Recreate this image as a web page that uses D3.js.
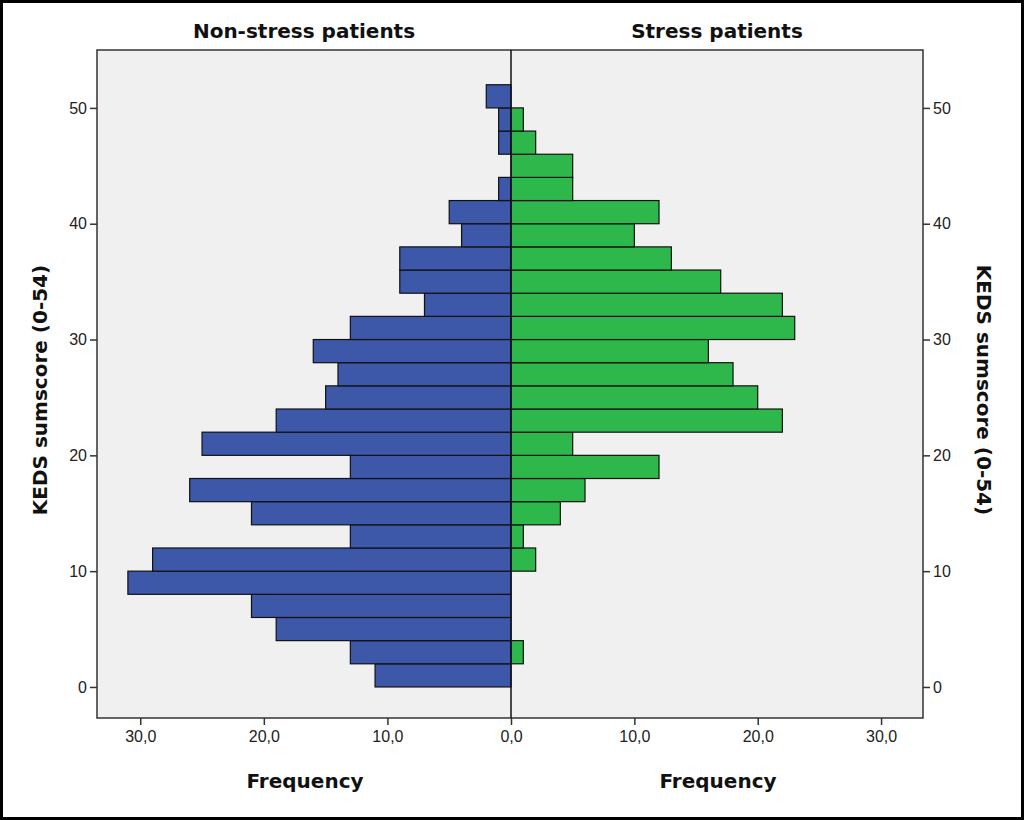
<!DOCTYPE html>
<html><head><meta charset="utf-8">
<script src="https://cdn.jsdelivr.net/npm/d3@7"></script>
<style>body{margin:0;background:#fff}svg{display:block}</style>
</head><body>
<script>
// Bin start values (KEDS sumscore bins of width 2)
const binStarts = [0,2,4,6,8,10,12,14,16,18,20,22,24,26,28,30,32,34,36,38,40,42,44,46,48,50];
const nonStress = [11,13,19,21,31,29,13,21,26,13,25,19,15,14,16,13,7,9,9,4,5,1,0,1,1,2];
const stress    = [0,1,0,0,0,2,1,4,6,12,5,22,20,18,16,23,22,17,13,10,12,5,5,2,1,0];
const yTicks = [0,10,20,30,40,50];
const xTicksLeft = [10,20,30];
const xTicksRight = [0,10,20,30];
const binWidth = 2;

const W = 1024, H = 820;
const svg = d3.select("body").append("svg").attr("width", W).attr("height", H);
svg.append("rect").attr("x",1.5).attr("y",1.5).attr("width",W-3).attr("height",H-3)
  .attr("fill","#fff").attr("stroke","#000").attr("stroke-width",3);

const plot = {l:97, r:923, t:50, b:718};
const cx = 511;
const y = d3.scaleLinear().domain([-2.68, 55.0]).range([plot.b, plot.t]);
const xL = d3.scaleLinear().domain([0, 33.5]).range([cx, plot.l]);
const xR = d3.scaleLinear().domain([0, 33.4]).range([cx, plot.r]);

svg.append("rect").attr("x",plot.l).attr("y",plot.t).attr("width",plot.r-plot.l).attr("height",plot.b-plot.t)
  .attr("fill","#f0f0f0").attr("stroke","#333").attr("stroke-width",1.5);

const data = binStarts.map((s,i)=>({s, a:nonStress[i], b:stress[i]}));
svg.append("g").selectAll("rect").data(data.filter(d=>d.a>0)).join("rect")
  .attr("x", d=>xL(d.a)).attr("width", d=>xL(0)-xL(d.a))
  .attr("y", d=>y(d.s+binWidth)).attr("height", d=>y(d.s)-y(d.s+binWidth))
  .attr("fill","#3d57a9").attr("stroke","#111").attr("stroke-width",1.2);
svg.append("g").selectAll("rect").data(data.filter(d=>d.b>0)).join("rect")
  .attr("x", d=>xR(0)).attr("width", d=>xR(d.b)-xR(0))
  .attr("y", d=>y(d.s+binWidth)).attr("height", d=>y(d.s)-y(d.s+binWidth))
  .attr("fill","#2eb84b").attr("stroke","#111").attr("stroke-width",1.2);

svg.append("line").attr("x1",cx).attr("x2",cx).attr("y1",plot.t).attr("y2",plot.b)
  .attr("stroke","#111").attr("stroke-width",1.5);

const fmt = d => d3.format(".1f")(d).replace(".", ",");
const tickFont = g => g.selectAll("text").attr("font-family","Liberation Sans, Arial, sans-serif").attr("font-size",16).attr("fill","#222");
const styleAxis = g => { g.select(".domain").remove(); g.selectAll(".tick line").attr("stroke","#333").attr("stroke-width",1.5); tickFont(g); };

svg.append("g").attr("transform",`translate(0,${plot.b})`)
  .call(d3.axisBottom(xL).tickValues(xTicksLeft).tickFormat(fmt).tickSize(7).tickPadding(6)).call(styleAxis);
svg.append("g").attr("transform",`translate(0,${plot.b})`)
  .call(d3.axisBottom(xR).tickValues(xTicksRight).tickFormat(fmt).tickSize(7).tickPadding(6)).call(styleAxis);
svg.append("g").attr("transform",`translate(${plot.l},0)`)
  .call(d3.axisLeft(y).tickValues(yTicks).tickSize(7).tickPadding(3)).call(styleAxis);
svg.append("g").attr("transform",`translate(${plot.r},0)`)
  .call(d3.axisRight(y).tickValues(yTicks).tickSize(7).tickPadding(3)).call(styleAxis);

const bold = sel => sel.attr("font-family","DejaVu Sans, sans-serif").attr("font-weight","bold").attr("font-size",20).attr("fill","#111").attr("text-anchor","middle");
svg.append("text").attr("x",(plot.l+cx)/2).attr("y",38).text("Non-stress patients").call(bold);
svg.append("text").attr("x",(cx+plot.r)/2).attr("y",38).text("Stress patients").call(bold);
svg.append("text").attr("x",(plot.l+cx)/2+1).attr("y",788).text("Frequency").call(bold);
svg.append("text").attr("x",(cx+plot.r)/2+1).attr("y",788).text("Frequency").call(bold);
svg.append("text").attr("transform",`translate(47,${(plot.t+plot.b)/2+6}) rotate(-90)`).text("KEDS sumscore (0-54)").call(bold);
svg.append("text").attr("transform",`translate(977,${(plot.t+plot.b)/2+6}) rotate(90)`).text("KEDS sumscore (0-54)").call(bold);
</script>
</body></html>
